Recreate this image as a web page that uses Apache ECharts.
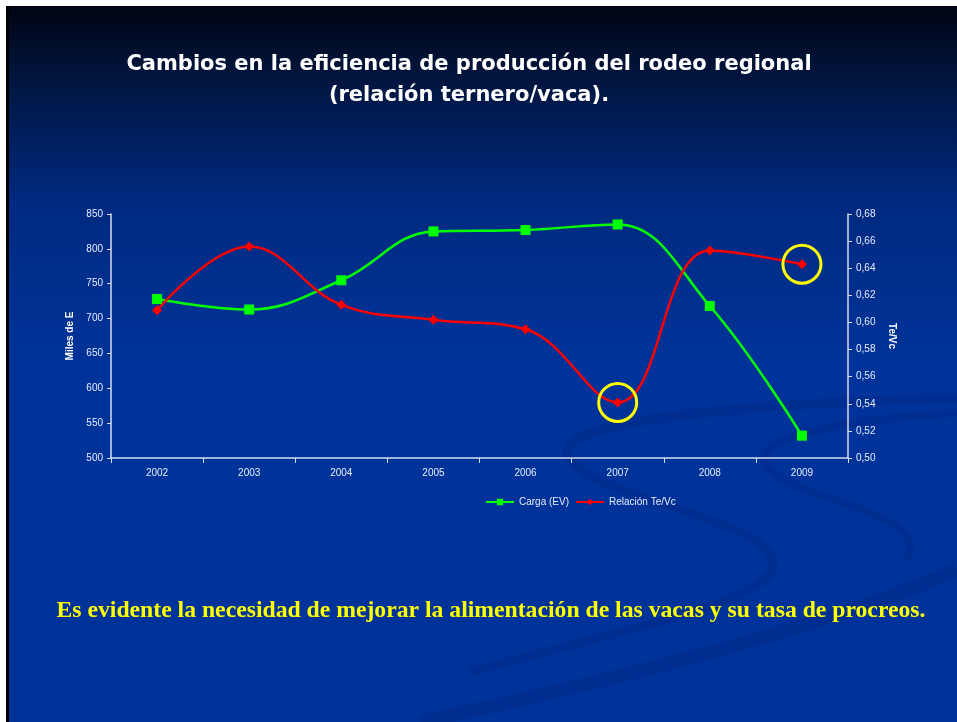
<!DOCTYPE html>
<html style="height: 100%">
<head>
<meta charset="utf-8">
<title>Cambios en la eficiencia de producción</title>
<script src="https://cdn.jsdelivr.net/npm/echarts@6/dist/echarts.min.js"></script>
</head>
<body style="height: 100%; margin: 0; background: #fff">
<div id="target" style="width: 957px; height: 722px"></div>
<script>
// data
let years = ["2002", "2003", "2004", "2005", "2006", "2007", "2008", "2009"];
let carga = [728, 713, 755, 825, 827, 835, 718, 532];
let relacion = [0.609, 0.656, 0.613, 0.602, 0.595, 0.541, 0.653, 0.643];
let circled = ["2007", "2009"];

let chart = echarts.init(document.getElementById('target'));

let axisText = { color: "#e8ecff", fontSize: 10, fontFamily: "Liberation Sans" };
let axisLine = { show: true, lineStyle: { color: "#d8dcf0", width: 1.5 } };

// faint swoosh of the slide template
let swoosh = "rgba(0, 25, 100, 0.16)";

let option = {
    backgroundColor: {
        type: "linear", x: 0, y: 0, x2: 0, y2: 1,
        colorStops: [
            { offset: 0.00, color: "#00030f" },
            { offset: 0.08, color: "#011133" },
            { offset: 0.28, color: "#002a80" },
            { offset: 0.50, color: "#003399" },
            { offset: 1.00, color: "#003399" },
        ],
    },
    title: [
        {
            text: "Cambios en la eficiencia de producción del rodeo regional\n(relación ternero/vaca).",
            left: 464,
            top: 44,
            textAlign: "center",
            textStyle: {
                color: "#ffffff",
                fontFamily: "DejaVu Sans",
                fontWeight: "bold",
                fontSize: 21,
                lineHeight: 31,
            },
        },
        {
            text: "Es evidente la necesidad de mejorar la alimentación de las vacas y su tasa de procreos.",
            left: 486,
            top: 594,
            textAlign: "center",
            textStyle: {
                color: "#ffff00",
                fontFamily: "Liberation Serif",
                fontWeight: "bold",
                fontSize: 23.7,
            },
        },
    ],
    graphic: [
        { type: "bezierCurve", silent: true, z: 0,
          shape: { x1: 957, y1: 398, cpx1: 700, cpy1: 405, cpx2: 555, cpy2: 425, x2: 568, y2: 455 },
          style: { stroke: swoosh, lineWidth: 10, fill: null } },
        { type: "bezierCurve", silent: true, z: 0,
          shape: { x1: 568, y1: 455, cpx1: 585, cpy1: 500, cpx2: 790, cpy2: 520, x2: 772, y2: 570 },
          style: { stroke: swoosh, lineWidth: 9, fill: null } },
        { type: "bezierCurve", silent: true, z: 0,
          shape: { x1: 772, y1: 570, cpx1: 755, cpy1: 605, cpx2: 620, cpy2: 630, x2: 470, y2: 672 },
          style: { stroke: swoosh, lineWidth: 9, fill: null } },
        { type: "bezierCurve", silent: true, z: 0,
          shape: { x1: 957, y1: 413, cpx1: 830, cpy1: 420, cpx2: 755, cpy2: 440, x2: 765, y2: 462 },
          style: { stroke: swoosh, lineWidth: 8, fill: null } },
        { type: "bezierCurve", silent: true, z: 0,
          shape: { x1: 765, y1: 462, cpx1: 780, cpy1: 500, cpx2: 940, cpy2: 510, x2: 905, y2: 560 },
          style: { stroke: swoosh, lineWidth: 8, fill: null } },
        { type: "bezierCurve", silent: true, z: 0,
          shape: { x1: 957, y1: 570, cpx1: 830, cpy1: 625, cpx2: 640, cpy2: 675, x2: 420, y2: 722 },
          style: { stroke: swoosh, lineWidth: 14, fill: null } },
        { type: "rect", shape: { x: 0, y: 0, width: 957, height: 6 }, style: { fill: "#ffffff" }, z: 10 },
        { type: "rect", shape: { x: 0, y: 0, width: 6, height: 722 }, style: { fill: "#ffffff" }, z: 10 },
        { type: "rect", shape: { x: 6, y: 6, width: 3, height: 716 }, style: { fill: "#000000" }, z: 10 },
    ],
    legend: {
        top: 492,
        left: 480,
        textAlign: "center",
        itemWidth: 28,
        itemHeight: 8,
        itemGap: 6,
        textStyle: { color: "#e8ecff", fontSize: 10, fontFamily: "Liberation Sans" },
    },
    grid: { left: 111, right: 109, top: 214, bottom: 264 },
    xAxis: {
        type: "category",
        data: years,
        boundaryGap: true,
        axisLine: axisLine,
        axisTick: { show: true, length: 5, lineStyle: { color: "#d8dcf0" } },
        axisLabel: Object.assign({ margin: 10 }, axisText),
        splitLine: { show: false },
    },
    yAxis: [
        {
            type: "value",
            min: 500, max: 850, interval: 50,
            name: "Miles de E",
            nameLocation: "middle",
            nameGap: 36,
            nameTextStyle: { color: "#ffffff", fontSize: 10, fontWeight: "bold", fontFamily: "Liberation Sans" },
            axisLine: axisLine,
            axisTick: { show: true, length: 4, lineStyle: { color: "#d8dcf0" } },
            axisLabel: Object.assign({ margin: 8 }, axisText),
            splitLine: { show: false },
        },
        {
            type: "value",
            min: 0.50, max: 0.68, interval: 0.02,
            name: "Te/Vc",
            nameLocation: "middle",
            nameGap: 38,
            nameRotate: -90,
            nameTextStyle: { color: "#ffffff", fontSize: 10, fontWeight: "bold", fontFamily: "Liberation Sans" },
            axisLine: axisLine,
            axisTick: { show: true, length: 4, lineStyle: { color: "#d8dcf0" } },
            axisLabel: Object.assign({
                margin: 8,
                formatter: v => v.toFixed(2).replace(".", ","),
            }, axisText),
            splitLine: { show: false },
        },
    ],
    series: [
        {
            name: "Carga (EV)",
            type: "line",
            yAxisIndex: 0,
            data: carga,
            smooth: 0.4,
            symbol: "rect",
            symbolSize: 10,
            lineStyle: { color: "#00ff00", width: 2.5 },
            itemStyle: { color: "#00ff00" },
        },
        {
            name: "Relación Te/Vc",
            type: "line",
            yAxisIndex: 1,
            data: relacion,
            smooth: 0.4,
            symbol: "diamond",
            symbolSize: 10,
            lineStyle: { color: "#ff0000", width: 2.5 },
            itemStyle: { color: "#ff0000" },
            markPoint: {
                symbol: "circle",
                symbolSize: 38,
                silent: true,
                label: { show: false },
                itemStyle: { color: "rgba(0,0,0,0)", borderColor: "#ffff00", borderWidth: 3 },
                data: circled.map(y => ({ coord: [y, relacion[years.indexOf(y)]] })),
            },
        },
    ],
};

chart.setOption(option);
</script>
</body>
</html>
